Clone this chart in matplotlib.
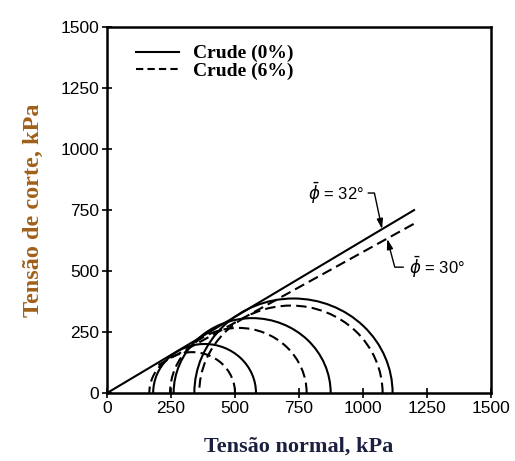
import numpy as np
import matplotlib
matplotlib.use('Agg')
import matplotlib.pyplot as plt
from matplotlib.patches import Arc
from matplotlib.lines import Line2D

# Mohr circles (sigma3, sigma1) in kPa
crude0_s3 = [180, 260, 341]
crude0_s1 = [582, 874, 1116]
crude6_s3 = [165, 246, 360]
crude6_s1 = [500, 780, 1077]

# failure envelopes
env0_x = [0, 1200]
env0_y = [0, 750]
env6_x = [200, 1210]
env6_y = [115, 700]

ticks = [0, 250, 500, 750, 1000, 1250, 1500]

fig = plt.figure(figsize=(5.15, 4.61), dpi=100)
ax = fig.add_axes([0.208, 0.1475, 0.745, 0.7935])

dash = (0, (5, 2.5))

# draw Mohr semicircles
for s3, s1 in zip(crude0_s3, crude0_s1):
    c = (s1 + s3) / 2
    d = s1 - s3
    ax.add_patch(Arc((c, 0), d, d, theta1=0, theta2=180, color='black', lw=1.5))
for s3, s1 in zip(crude6_s3, crude6_s1):
    c = (s1 + s3) / 2
    d = s1 - s3
    ax.add_patch(Arc((c, 0), d, d, theta1=0, theta2=180, color='black', lw=1.5, linestyle=dash))

ax.plot(env0_x, env0_y, color='black', lw=1.5)
ax.plot(env6_x, env6_y, color='black', lw=1.5, linestyle=dash)

# annotations
ax.annotate(r'$\bar{\phi}$ = 32°', xy=(1075, 672), xytext=(785, 820),
            ha='left', va='center', fontsize=12, family='Liberation Sans',
            arrowprops=dict(arrowstyle='-|>,head_length=0.5,head_width=0.15', color='black',
                            lw=1, relpos=(1, 0.5), shrinkA=1, shrinkB=0,
                            connectionstyle='angle,angleA=0,angleB=102,rad=0'))
ax.annotate(r'$\bar{\phi}$ = 30°', xy=(1095, 632), xytext=(1180, 516),
            ha='left', va='center', fontsize=12, family='Liberation Sans',
            arrowprops=dict(arrowstyle='-|>,head_length=0.5,head_width=0.15', color='black',
                            lw=1, relpos=(0, 0.5), shrinkA=2, shrinkB=0,
                            connectionstyle='angle,angleA=0,angleB=105,rad=0'))

# legend
handles = [Line2D([], [], color='black', lw=1.5),
           Line2D([], [], color='black', lw=1.5, linestyle=(0, (3.5, 2)))]
ax.legend(handles, ['Crude (0%)', 'Crude (6%)'], loc='upper left',
          bbox_to_anchor=(0.03, 1.0), frameon=False, handlelength=2.2,
          handletextpad=0.7, labelspacing=0.0,
          prop={'family': 'Liberation Serif', 'weight': 'bold', 'size': 14})

ax.set_xlim(0, 1500)
ax.set_ylim(0, 1500)
ax.set_xticks(ticks)
ax.set_yticks(ticks)
ax.tick_params(direction='inout', length=7, width=1.2, labelsize=12.5, pad=2)
for lab in ax.get_xticklabels() + ax.get_yticklabels():
    lab.set_family('Liberation Sans')
for s in ax.spines.values():
    s.set_linewidth(1.8)

ax.set_xlabel('Tensão normal, kPa', family='Liberation Serif', weight='bold',
              fontsize=16, color='#1c2040', labelpad=15)
ax.set_ylabel('Tensão de corte, kPa', family='Liberation Serif', weight='bold',
              fontsize=17.5, color='#a0601a', labelpad=12)

fig.savefig('out.png', dpi=100)
